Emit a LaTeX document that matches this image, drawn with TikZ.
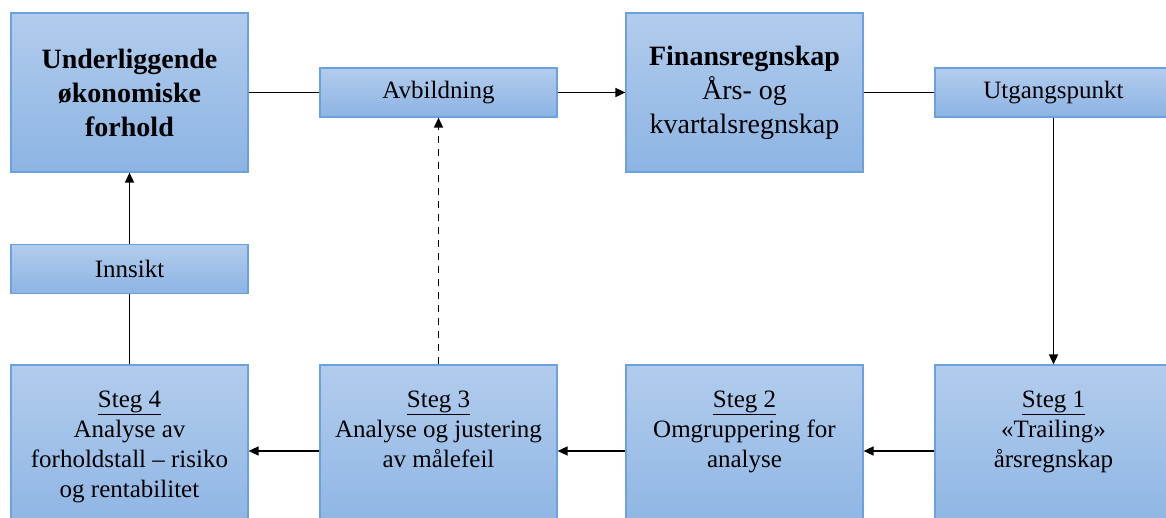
\documentclass[tikz,border=0pt]{standalone}
\usepackage{fontspec}
\setmainfont{Liberation Serif}
\usetikzlibrary{arrows.meta}
\definecolor{boxtop}{RGB}{178,204,237}
\definecolor{boxbot}{RGB}{140,180,227}
\definecolor{boxline}{RGB}{108,160,222}
% step box contents: underlined heading, then the description, set from the top
\newcommand\steptext[2]{\parbox[t][172pt][t]{237pt}{\centering\rule{0pt}{42pt}\underline{#1}\\#2}}
\begin{document}
\begin{tikzpicture}[x=1pt,y=-1pt,
  box/.style={draw=boxline, line width=1.2pt, top color=boxtop, bottom color=boxbot,
    inner sep=0pt, minimum width=237pt, text=black},
  bigbox/.style={box, minimum height=159pt, align=center, font=\fontsize{28}{34}\selectfont},
  tagbox/.style={box, minimum height=49pt, align=center, font=\fontsize{25}{30}\selectfont},
  stepbox/.style={box, minimum height=172pt, font=\fontsize{25}{30}\selectfont},
  link/.style={line width=1.6pt, black},
  arr/.style={link, -{Triangle[length=10pt,width=9pt]}},
  dashlink/.style={arr, dash pattern=on 7pt off 6pt}]
\useasboundingbox (0,0) rectangle (1166,518);
\fill[white] (0,0) rectangle (1166,518);
\clip (0,0) rectangle (1166,518);

% top row
\node[bigbox] (under) at (129.5,92.5) {\textbf{Underliggende}\\\textbf{økonomiske}\\\textbf{forhold}};
\node[tagbox] (avb) at (438.5,92.5) {Avbildning};
\node[bigbox] (fin) at (744.5,92.5) {\textbf{Finansregnskap}\\Års- og\\kvartalsregnskap};
\node[tagbox] (utg) at (1053.5,92.5) {Utgangspunkt};

% insight label between step 4 and the top-left box
\node[tagbox] (inns) at (129.5,269) {Innsikt};

% bottom row: the four steps
\node[stepbox] (s4) at (129.5,451) {\steptext{Steg 4}{Analyse av\\forholdstall – risiko\\og rentabilitet}};
\node[stepbox] (s3) at (438.5,451) {\steptext{Steg 3}{Analyse og justering\\av målefeil}};
\node[stepbox] (s2) at (744.5,451) {\steptext{Steg 2}{Omgruppering for\\analyse}};
\node[stepbox] (s1) at (1053.5,451) {\steptext{Steg 1}{«Trailing»\\årsregnskap}};

% connectors
\draw[link] (under.east) -- (avb.west);
\draw[arr] (avb.east) -- (fin.west);
\draw[link] (fin.east) -- (utg.west);
\draw[arr] (utg.south) -- (s1.north);
\draw[arr] (s1.west) -- (s2.east);
\draw[arr] (s2.west) -- (s3.east);
\draw[arr] (s3.west) -- (s4.east);
\draw[link] (s4.north) -- (inns.south);
\draw[arr] (inns.north) -- (under.south);
\draw[dashlink] (s3.north) -- (avb.south);
\end{tikzpicture}
\end{document}
